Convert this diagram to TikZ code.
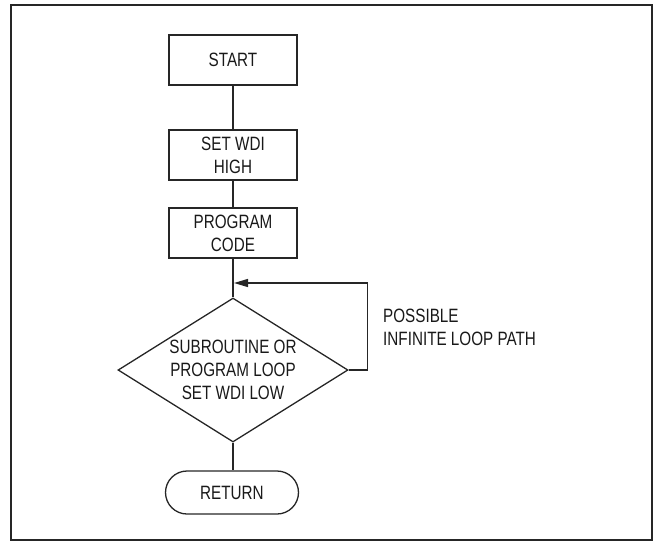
\documentclass[tikz,border=0pt]{standalone}
\usepackage{fontspec}
\setmainfont[FakeStretch=0.79]{Liberation Sans}
\usetikzlibrary{shapes.geometric,arrows.meta}
\begin{document}
\begin{tikzpicture}[x=1pt,y=-1pt,
  every node/.style={font=\fontsize{19.3}{23.3}\selectfont, text=black!90},
  flowline/.style={draw=black!85, line width=1.3pt},
  procbox/.style={flowline, rectangle, minimum width=128pt, minimum height=50pt, inner sep=0pt, align=center},
  decbox/.style={flowline, diamond, shape aspect=1.6, minimum width=230pt, minimum height=144pt, inner sep=0pt, align=center},
  termbox/.style={flowline, rectangle, rounded corners=21.5pt, minimum width=133pt, minimum height=43pt, inner sep=0pt, align=center},
  note/.style={inner sep=0pt, align=left}]
\useasboundingbox (0,0) rectangle (654,542);
\draw[line width=2pt, draw=black!85] (11,5) rectangle (652,540);

\node[procbox] (start) at (233,60) {START};
\node[procbox] (set) at (233,155) {SET WDI\\HIGH};
\node[procbox] (prog) at (233,233) {PROGRAM\\CODE};
\node[decbox] (dec) at (233,370) {SUBROUTINE OR\\PROGRAM LOOP\\SET WDI LOW};
\node[termbox] (ret) at (232,492.5) {RETURN};
\coordinate (loopin) at (234,283);

\draw[flowline] (start.south) -- (set.north);
\draw[flowline] (set.south) -- (prog.north);
\draw[flowline] (prog.south) -- (dec.north);
\draw[flowline] (dec.south) -- (dec.south |- ret.north);
\draw[flowline, -{Triangle[length=14pt,width=8pt]}] (dec.east) -- ++(19,0) |- (loopin);

\node[note, anchor=north west] (lbl) at (383,309) {POSSIBLE\\INFINITE LOOP PATH};
\end{tikzpicture}
\end{document}
